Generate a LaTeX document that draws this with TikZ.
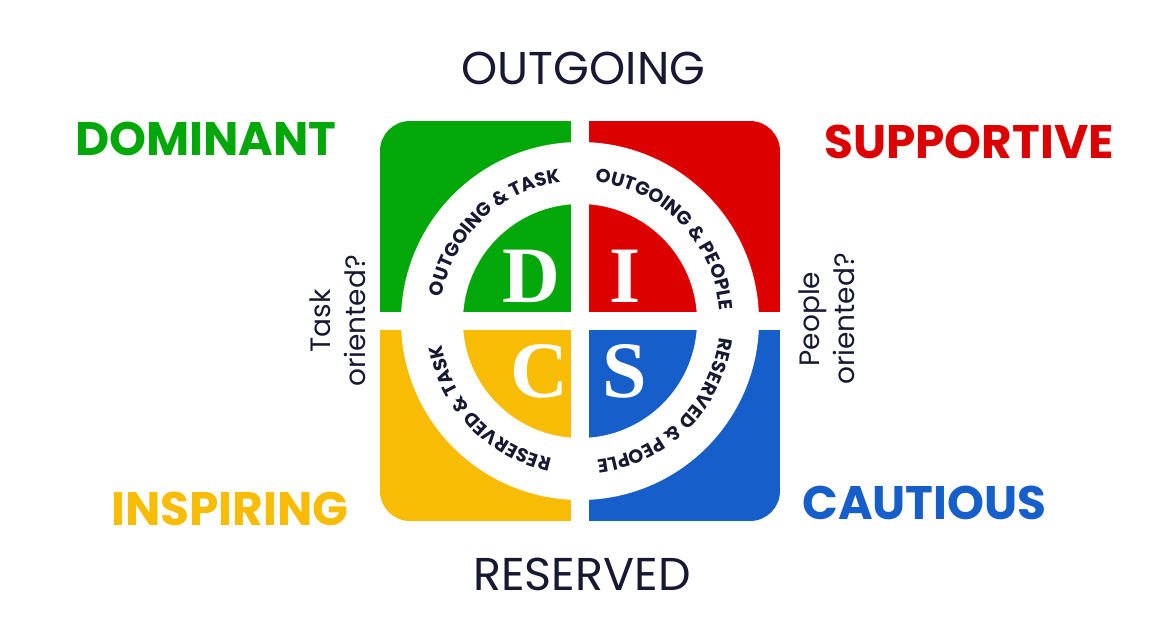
\documentclass[tikz,border=0pt]{standalone}
\usepackage{fontspec}
\setmainfont{Poppins}
\newfontfamily\letterfont{Liberation Serif}
\definecolor{cD}{RGB}{2,168,10}
\definecolor{cI}{RGB}{221,0,0}
\definecolor{cC}{RGB}{249,188,4}
\definecolor{cS}{RGB}{22,94,201}
\definecolor{navy}{RGB}{23,25,51}
\newcommand{\ringfont}{\bfseries\fontsize{19}{19}\selectfont}
\newsavebox\rbox
\newdimen\rtot
\newdimen\rcum
\newdimen\rcw
\def\rtrack{0pt}
\def\ringr{140}
\def\rsp{\ }
\newcommand\storew[1]{%
  \sbox\rbox{\ringfont#1}%
  \expandafter\xdef\csname rw@\detokenize{#1}\endcsname{\the\wd\rbox}}
\newcommand\getw[1]{%
  \expandafter\let\expandafter\wch\csname rw@\expandafter\detokenize\expandafter{#1}\endcsname}
\newcommand\ringtext[2]{%
  \global\rtot=0pt
  \foreach \ch in {#2}{%
    \getw{\ch}%
    \global\advance\rtot by \wch\relax
    \global\advance\rtot by \rtrack\relax
  }%
  \global\rcum=0pt
  \foreach \ch in {#2}{%
    \getw{\ch}%
    \rcw=\wch\relax
    \advance\rcw by \rtrack\relax
    \pgfmathsetmacro\ang{#1 + (0.5*\rtot - \rcum - 0.5*\rcw)/\ringr*57.29578}%
    \node[ringchar, rotate=\ang-90] at (\ang:\ringr) {\ch};
    \global\advance\rcum by \rcw
  }}
\begin{document}
\storew{O}\storew{U}\storew{T}\storew{G}\storew{I}\storew{N}\storew{\rsp}\storew{\&}%
\storew{A}\storew{S}\storew{K}\storew{P}\storew{E}\storew{L}\storew{R}\storew{V}\storew{D}%
\begin{tikzpicture}[x=1pt,y=1pt,
  biglabel/.style={font=\bfseries\fontsize{47}{47}\selectfont, inner sep=0pt},
  axislabel/.style={font=\fontsize{46}{46}\selectfont, inner sep=0pt, text=navy},
  sidelabel/.style={font=\fontsize{28}{35}\selectfont, inner sep=0pt, text=navy, align=center, rotate=90},
  letter/.style={font=\letterfont\bfseries\fontsize{80}{80}\selectfont, inner sep=0pt, text=white},
  ringchar/.style={anchor=base, inner sep=0pt, text=navy, font=\ringfont}]
\useasboundingbox (-580,-322) rectangle (591,321);
\begin{scope}
  \clip[rounded corners=30pt] (-200,-200) rectangle (200,200);
  \fill[cD] (-200,0) rectangle (0,200);
  \fill[cI] (0,0) rectangle (200,200);
  \fill[cC] (-200,-200) rectangle (0,0);
  \fill[cS] (0,-200) rectangle (200,0);
\end{scope}
\fill[white,even odd rule] (0,0) circle[radius=179] (0,0) circle[radius=117];
\fill[white] (-9,-205) rectangle (9,205);
\fill[white] (-205,-9) rectangle (205,9);
% ring texts
\ringtext{134}{O,U,T,G,O,I,N,G,\rsp,\&,\rsp,T,A,S,K}
\ringtext{44}{O,U,T,G,O,I,N,G,\rsp,\&,\rsp,P,E,O,P,L,E}
\ringtext{-45}{R,E,S,E,R,V,E,D,\rsp,\&,\rsp,P,E,O,P,L,E}
\ringtext{224}{R,E,S,E,R,V,E,D,\rsp,\&,\rsp,T,A,S,K}
% letters
\node[letter] (D) at (-48.5,44.5) {D};
\node[letter] (I) at (45.5,44.5) {I};
\node[letter] (C) at (-41,-50.5) {C};
\node[letter] (S) at (45,-50.5) {S};
% labels
\node[axislabel] (out) at (3.5,252.5) {OUTGOING};
\node[axislabel] (res) at (2,-253) {RESERVED};
\node[biglabel, text=cD] (dom) at (-374,182.5) {DOMINANT};
\node[biglabel, text=cI] (sup) at (389,179) {SUPPORTIVE};
\node[biglabel, text=cC] (ins) at (-350,-187.5) {INSPIRING};
\node[biglabel, text=cS] (cau) at (344.5,-182) {CAUTIOUS};
\node[sidelabel] (task) at (-242.5,0) {Task\\oriented?};
\node[sidelabel] (people) at (246.5,2) {People\\oriented?};
\end{tikzpicture}
\end{document}
